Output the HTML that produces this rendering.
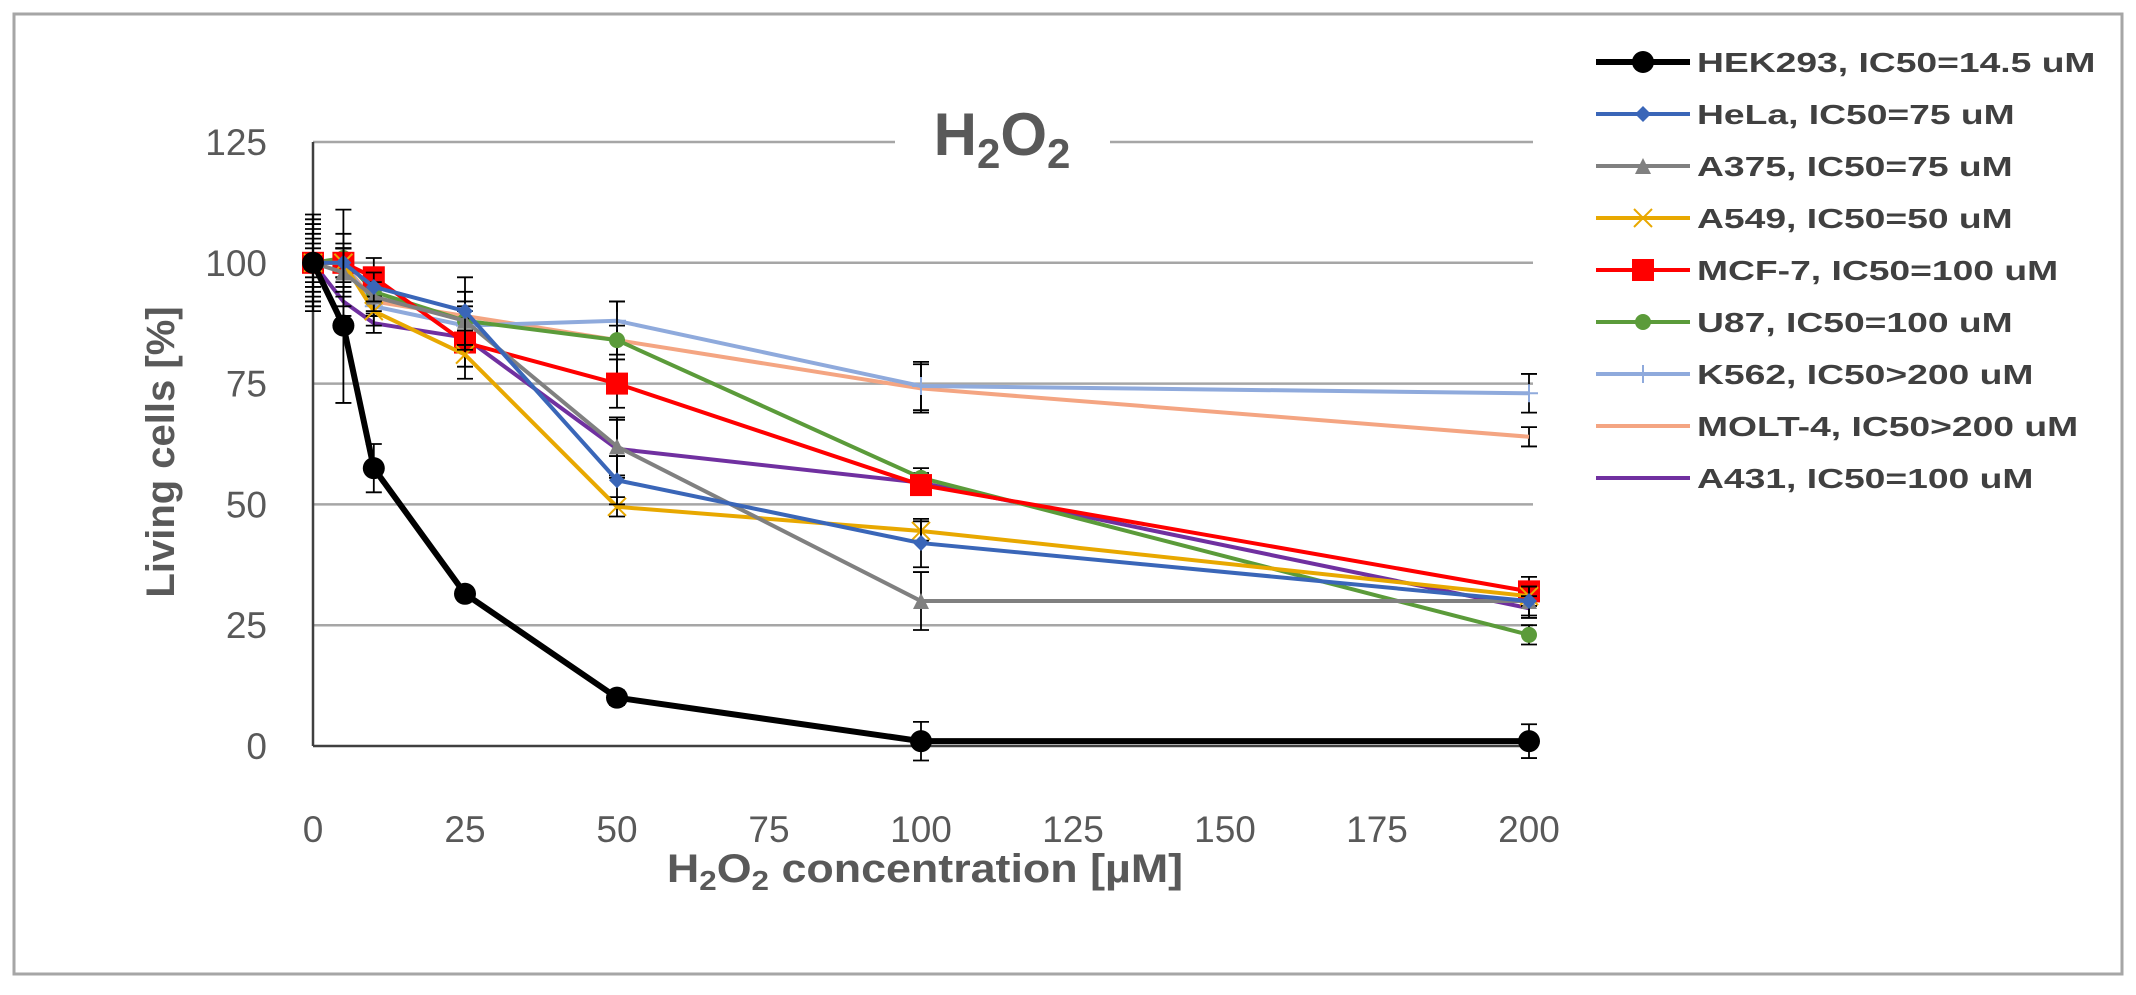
<!DOCTYPE html>
<html><head><meta charset="utf-8"><style>
body{margin:0;background:#fff;}
svg text{font-family:"Liberation Sans",sans-serif;}
</style></head><body>
<svg id="chart" width="2136" height="990" xmlns="http://www.w3.org/2000/svg">
<rect x="14" y="14" width="2108" height="960" fill="#fff" stroke="#a6a6a6" stroke-width="3"/>
<g id="grid"></g>
<g id="series"></g>
<rect x="895" y="100" width="215" height="70" fill="#fff"/>
<text id="title" x="1002" y="155" text-anchor="middle" font-size="60" font-weight="bold" fill="#595959">H<tspan font-size="42" dy="13">2</tspan><tspan dy="-13">O</tspan><tspan font-size="42" dy="13">2</tspan></text>
<text id="ytitle" transform="translate(174,452) rotate(-90)" text-anchor="middle" font-size="40" font-weight="bold" fill="#595959">Living cells  [%]</text>
<text id="xtitle" x="925" y="882" text-anchor="middle" font-size="40" font-weight="bold" fill="#595959">H<tspan font-size="28" dy="8">2</tspan><tspan dy="-8">O</tspan><tspan font-size="28" dy="8">2</tspan><tspan dy="-8"> concentration  [µM]</tspan></text>
<g id="legend"></g>
</svg>
<script>
const xTicks=[0,25,50,75,100,125,150,175,200];
const yTicks=[0,25,50,75,100,125];
const xVals=[0,5,10,25,50,100,200];
const names=["HEK293, IC50=14.5 uM","HeLa, IC50=75 uM","A375, IC50=75 uM","A549, IC50=50 uM","MCF-7, IC50=100 uM","U87, IC50=100 uM","K562, IC50>200 uM","MOLT-4, IC50>200 uM","A431, IC50=100 uM"];
const hek=[100,87,57.5,31.5,10,1,1];
const hela=[100,100,95,90,55,42,30];
const a375=[100,98,93,88,62,30,30];
const a549=[100,100,90,81,49.5,44.5,31];
const mcf7=[100,100,97,83.5,75,54,32];
const u87=[100,101,94,88,84,55.5,23];
const k562=[100,100,91,87,88,74.5,73];
const molt4=[100,100,92,89,84,74,64];
const a431=[100,92,87.5,84.5,61.5,54.5,28.5];
const hekErr=[9,16,5,1,1.5,4,3.5];
const helaErr=[6,4,3,7,5,5,3];
const a375Err=[8,5,3,6,6,6,1];
const a549Err=[4,3,3,5,2,2,2];
const mcf7Err=[3,3,4,5,5,2,3];
const u87Err=[7,10,2,3,8,2,2];
const k562Err=[10,6,2,3,4,5,4];
const molt4Err=[5,3,3,3,3,5,2];
const a431Err=[8,3,2,3,6,2,2];
const X0=313,X1=1529,Y0=746,Y1=142;
const sx=v=>X0+(v-0)*(X1-X0)/200;
const sy=v=>Y0-(v-0)*(Y0-Y1)/125;
const NS="http://www.w3.org/2000/svg";
function mk(tag,attrs,parent){const e=document.createElementNS(NS,tag);for(const k in attrs)e.setAttribute(k,attrs[k]);parent.appendChild(e);return e;}
function stretch(el,f){const w=el.getComputedTextLength();el.setAttribute('textLength',w*f);el.setAttribute('lengthAdjust','spacingAndGlyphs');}
const grid=document.getElementById('grid');
yTicks.forEach(t=>{
  if(t>0){const l=mk('line',{x1:X0,x2:1533,y1:sy(t),y2:sy(t),stroke:'#a6a6a6','stroke-width':2.5},grid);
  
  }
  const tx=mk('text',{x:267,y:sy(t)+13,'text-anchor':'end','font-size':37,fill:'#595959'},grid);tx.textContent=t;
  
  
});
xTicks.forEach(t=>{
  const tx=mk('text',{x:sx(t),y:842,'text-anchor':'middle','font-size':37,fill:'#595959'},grid);tx.textContent=t;
  
  
});
const ax=mk('line',{x1:X0,x2:X0,y1:Y1,y2:Y0,stroke:'#404040','stroke-width':2.5},grid);


const ax2=mk('line',{x1:X0,x2:1533,y1:Y0,y2:Y0,stroke:'#404040','stroke-width':2.5},grid);


const cfg=[
 {d:hek,e:hekErr,c:'#000000',w:6,m:'circle',s:11},
 {d:hela,e:helaErr,c:'#3a66b8',w:4,m:'diamond',s:8},
 {d:a375,e:a375Err,c:'#808080',w:4,m:'triangle',s:8},
 {d:a549,e:a549Err,c:'#e8a800',w:4,m:'x',s:9},
 {d:mcf7,e:mcf7Err,c:'#ff0000',w:4,m:'square',s:11},
 {d:u87,e:u87Err,c:'#5b9b3a',w:4,m:'circle',s:8},
 {d:k562,e:k562Err,c:'#8faadc',w:4,m:'plus',s:9},
 {d:molt4,e:molt4Err,c:'#f4a582',w:4,m:'none',s:0},
 {d:a431,e:a431Err,c:'#7030a0',w:4,m:'none',s:0}
];
const slugs=['hek293','hela','a375','a549','mcf7','u87','k562','molt4','a431'];
function marker(g,m,x,y,s,c){
  if(m==='circle')mk('circle',{cx:x,cy:y,r:s,fill:c},g);
  else if(m==='square')mk('rect',{x:x-s,y:y-s,width:2*s,height:2*s,fill:c},g);
  else if(m==='diamond')mk('polygon',{points:`${x},${y-s} ${x+s},${y} ${x},${y+s} ${x-s},${y}`,fill:c},g);
  else if(m==='triangle')mk('polygon',{points:`${x},${y-s} ${x+s},${y+s} ${x-s},${y+s}`,fill:c},g);
  else if(m==='x')mk('path',{d:`M${x-s} ${y-s}L${x+s} ${y+s}M${x-s} ${y+s}L${x+s} ${y-s}`,stroke:c,'stroke-width':2},g);
  else if(m==='plus')mk('path',{d:`M${x-s} ${y}L${x+s} ${y}M${x} ${y-s}L${x} ${y+s}`,stroke:c,'stroke-width':2},g);
}
const sg=document.getElementById('series');
const order=[8,7,6,5,4,3,2,1,0];
order.forEach(i=>{
  const c=cfg[i];
  const g=mk('g',{},sg);
  
  
  c.d.forEach((v,j)=>{
    const x=sx(xVals[j]),yt=sy(v+c.e[j]),yb=sy(v-c.e[j]);
    mk('path',{d:`M${x} ${yt}L${x} ${yb}M${x-8} ${yt}L${x+8} ${yt}M${x-8} ${yb}L${x+8} ${yb}`,stroke:'#000','stroke-width':1.8,fill:'none'},g);
  });
  const pts=c.d.map((v,j)=>sx(xVals[j])+','+sy(v)).join(' ');
  mk('polyline',{points:pts,fill:'none',stroke:c.c,'stroke-width':c.w,'stroke-linejoin':'round'},g);
  c.d.forEach((v,j)=>marker(g,c.m,sx(xVals[j]),sy(v),c.s,c.c));
});
const lg=document.getElementById('legend');
names.forEach((n,i)=>{
  const c=cfg[i],y=62+i*52;
  const g=mk('g',{},lg);
  
  
  mk('line',{x1:1596,x2:1690,y1:y,y2:y,stroke:c.c,'stroke-width':c.w},g);
  marker(g,c.m,1643,y,c.s,c.c);
  const t=mk('text',{x:1697,y:y+10,'font-size':28,'font-weight':'bold',fill:'#404040'},g);t.textContent=n;
  stretch(t,1.33);
});
stretch(document.getElementById('xtitle'),1.12);
</script>
</body></html>
